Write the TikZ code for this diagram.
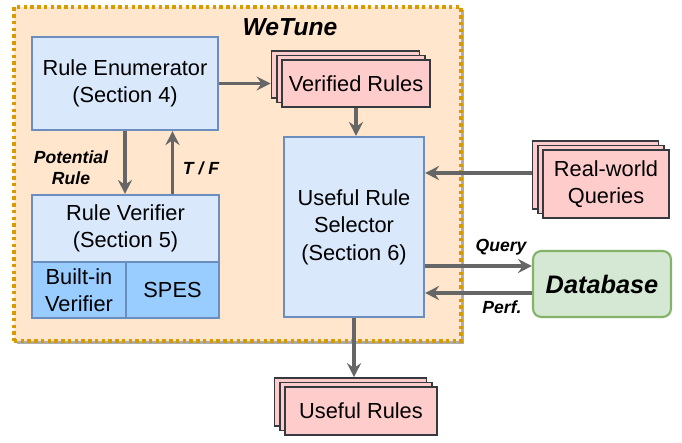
\documentclass[tikz,border=0pt]{standalone}
\usepackage{fontspec}
\setmainfont{Liberation Sans}
\usetikzlibrary{arrows.meta,shadows,calc}

\definecolor{tunefill}{HTML}{FFE6CC}
\definecolor{tuneline}{HTML}{D79B00}
\definecolor{modfill}{HTML}{DAE8FC}
\definecolor{modline}{HTML}{6C8EBF}
\definecolor{cellfill}{HTML}{99CCFF}
\definecolor{rulefill}{HTML}{FFCCCC}
\definecolor{ruleline}{HTML}{36393D}
\definecolor{dbfill}{HTML}{D5E8D4}
\definecolor{dbline}{HTML}{82B366}
\definecolor{flowgray}{HTML}{666666}

\begin{document}
\begin{tikzpicture}[x=0.025cm, y=-0.025cm,
		>={Stealth[length=10pt, width=10pt, inset=3.5pt]},
		font=\fontsize{15.5}{19.5}\selectfont,
		tunebox/.style={draw=tuneline, fill=tunefill, line width=2.4pt, dash pattern=on 2.4pt off 2.4pt,
			drop shadow={shadow xshift=2pt, shadow yshift=-2pt, fill=black!40, opacity=0.8}},
		modbox/.style={draw=modline, fill=modfill, line width=1.5pt, align=center, inner sep=0pt},
		cellbox/.style={modbox, fill=cellfill},
		rulecopy/.style={draw=ruleline, fill=rulefill, line width=1.2pt},
		stackbox/.style={rulecopy, align=center, inner sep=0pt,
			copy shadow={rulecopy, shadow xshift=-7.5pt, shadow yshift=6.5pt},
			copy shadow={rulecopy, shadow xshift=-3.75pt, shadow yshift=3.25pt}},
		dbbox/.style={draw=dbline, fill=dbfill, line width=1.5pt, rounded corners=6pt,
			font=\fontsize{18}{20}\selectfont\bfseries\itshape},
		lbl/.style={align=center, font=\fontsize{12.5}{15}\selectfont\bfseries\itshape},
		flow/.style={->, draw=flowgray, line width=2.4pt}]
	
	\def\px{0.025cm}
	\useasboundingbox (0,0) rectangle (682,442);
	
	% WeTune frame
	\node[tunebox, minimum width=447*\px, minimum height=334*\px] (wetune) at (237.5,174) {};
	\node[font=\fontsize{17.5}{20}\selectfont\bfseries\itshape] (wetunelbl) at (290,27) {WeTune};
	
	% modules
	\node[modbox, minimum width=186*\px, minimum height=93*\px] (enum) at (125,83.5)
	{Rule Enumerator\\(Section 4)};
	\node[modbox, minimum width=187*\px, minimum height=67*\px] (vtop) at (125.5,228.5)
	{Rule Verifier\\(Section 5)};
	\node[cellbox, minimum width=94*\px, minimum height=56*\px] (builtin) at (79,290)
	{Built-in\\Verifier};
	\node[cellbox, minimum width=93*\px, minimum height=56*\px] (spes) at (172.5,290) {SPES};
	\node[modbox, minimum width=140*\px, minimum height=180*\px] (sel) at (354,227)
	{Useful Rule\\Selector\\(Section 6)};
	
	% rule stacks
	\node[stackbox, minimum width=148*\px, minimum height=47*\px] (ver) at (356,83.5) {Verified Rules};
	\node[stackbox, minimum width=126*\px, minimum height=68*\px] (rwq) at (606,184) {Real-world\\Queries};
	\node[stackbox, minimum width=152*\px, minimum height=48*\px] (ur) at (361,411) {Useful Rules};
	
	\node[dbbox, minimum width=138*\px, minimum height=66*\px] (db) at (602,284) {Database};
	
	% connectors
	\draw[flow] (enum.east) -- ([xshift=-7.5pt]ver.west);
	\draw[flow] (ver.south) -- (ver.south |- sel.north);
	\draw[flow] (enum.south) -- (enum.south |- vtop.north);
	\draw[flow] (spes.center |- vtop.north) -- (spes.center |- enum.south);
	
	\coordinate (rwqout) at ([shift={(-10.5,-11)}]rwq.west);
	\draw[flow] (rwqout) -- (sel.east |- rwqout);
	
	\coordinate (dbin) at ([shift={(0,-18)}]db.west);
	\coordinate (dbout) at ([shift={(0,9)}]db.west);
	\draw[flow] (sel.east |- dbin) -- (dbin);
	\draw[flow] (dbout) -- (sel.east |- dbout);
	
	\draw[flow] (sel.south) -- ($(sel.south |- ur.north)+(0,-9)$);
	
	% labels
	\node[lbl] (potlbl) at (71,168) {Potential\\Rule};
	\node[lbl] (tflbl) at (201,168) {T / F};
	\node[lbl] (qlbl) at (501,247) {Query};
	\node[lbl] (plbl) at (502,307) {Perf.};
	
\end{tikzpicture}
\end{document}
